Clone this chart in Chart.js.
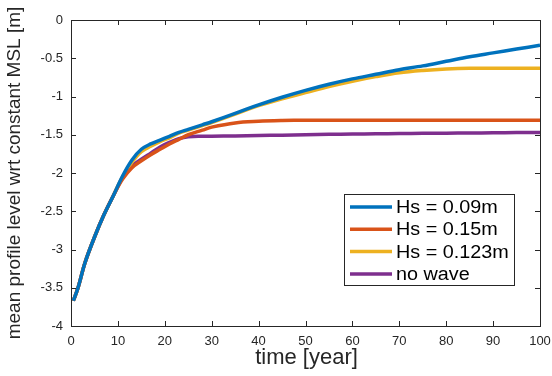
<!DOCTYPE html>
<html>
<head>
<meta charset="utf-8">
<script src="https://cdn.jsdelivr.net/npm/chart.js@4"></script>
<style>
  html, body { margin: 0; padding: 0; background: #fff; }
  #wrap { width: 552px; height: 376px; position: relative; }
</style>
</head>
<body>
<div id="wrap"><canvas id="msl"></canvas></div>
<script>
// time axis (years) shared by every series
const years = [0.5, 1.5, 3, 5, 7, 9, 11, 13, 15, 17, 19, 21, 23, 25, 28, 30,
  35, 40, 45, 50, 55, 60, 65, 70, 75, 80, 85, 90, 95, 100];

// all four runs start on top of each other
const early = [-3.67, -3.5, -3.17, -2.84, -2.55, -2.3];

const hs009 = early.concat([-2.04, -1.83, -1.69, -1.62, -1.57, -1.52, -1.47, -1.43, -1.37, -1.33,
  -1.22, -1.11, -1.01, -0.92, -0.84, -0.77, -0.71, -0.65, -0.6, -0.54, -0.48, -0.43, -0.38, -0.33]);
const hs015 = early.concat([-2.08, -1.93, -1.84, -1.76, -1.69, -1.62, -1.56, -1.5, -1.44, -1.4,
  -1.345, -1.325, -1.315, -1.31, -1.31, -1.31, -1.31, -1.31, -1.31, -1.31, -1.31, -1.31, -1.31, -1.31]);
const hs0123 = early.concat([-2.05, -1.86, -1.72, -1.65, -1.59, -1.54, -1.48, -1.44, -1.38, -1.34,
  -1.23, -1.12, -1.03, -0.95, -0.87, -0.8, -0.74, -0.69, -0.66, -0.64, -0.63, -0.63, -0.63, -0.63]);
const noWave = early.concat([-2.06, -1.91, -1.82, -1.74, -1.66, -1.6, -1.55, -1.525, -1.52, -1.52,
  -1.515, -1.51, -1.505, -1.5, -1.495, -1.49, -1.488, -1.485, -1.482, -1.48, -1.477, -1.475, -1.472, -1.47]);

const seriesNames = ["Hs = 0.09m", "Hs = 0.15m", "Hs = 0.123m", "no wave"];
const xTicks = [0, 10, 20, 30, 40, 50, 60, 70, 80, 90, 100];
const yTicks = [0, -0.5, -1, -1.5, -2, -2.5, -3, -3.5, -4];

const colors = ["#0072BD", "#D95319", "#EDB120", "#7E2F8E"];
const FONT = "'Liberation Sans', Arial, sans-serif";

function pts(vals) {
  return years.map((t, i) => ({ x: t, y: vals[i] }));
}

// MATLAB-style box with inward ticks, axis titles and an inset legend
const matlabFrame = {
  id: "matlabFrame",
  afterDraw(chart) {
    const { ctx, chartArea: a, scales } = chart;
    ctx.save();
    ctx.strokeStyle = "#262626";
    ctx.lineWidth = 1;
    ctx.strokeRect(a.left + 0.5, a.top + 0.5, a.right - a.left, a.bottom - a.top);
    ctx.beginPath();
    for (const v of xTicks) {
      const px = Math.round(scales.x.getPixelForValue(v)) + 0.5;
      ctx.moveTo(px, a.bottom); ctx.lineTo(px, a.bottom - 5);
      ctx.moveTo(px, a.top); ctx.lineTo(px, a.top + 5);
    }
    for (const v of yTicks) {
      const py = Math.round(scales.y.getPixelForValue(v)) + 0.5;
      ctx.moveTo(a.left, py); ctx.lineTo(a.left + 5, py);
      ctx.moveTo(a.right, py); ctx.lineTo(a.right - 5, py);
    }
    ctx.stroke();

    // axis titles
    ctx.fillStyle = "#262626";
    ctx.textAlign = "center";
    ctx.textBaseline = "middle";
    ctx.font = "22px " + FONT;
    ctx.fillText("time [year]", (a.left + a.right) / 2 + 1, 358);
    ctx.translate(15, 173);
    ctx.rotate(-Math.PI / 2);
    ctx.font = "19px " + FONT;
    ctx.fillText("mean profile level wrt constant MSL [m]", 0, 0);
    ctx.restore();

    // legend
    ctx.save();
    const lx = 344, ly = 194, lw = 170, lh = 91;
    ctx.fillStyle = "#fff";
    ctx.fillRect(lx, ly, lw, lh);
    ctx.strokeStyle = "#262626";
    ctx.lineWidth = 1;
    ctx.strokeRect(lx + 0.5, ly + 0.5, lw, lh);
    chart.data.datasets.forEach((ds, i) => {
      const y = ly + 13 + i * 22.3;
      ctx.strokeStyle = ds.borderColor;
      ctx.lineWidth = 3.5;
      ctx.beginPath();
      ctx.moveTo(lx + 6, y); ctx.lineTo(lx + 48, y);
      ctx.stroke();
      ctx.save();
      ctx.translate(lx + 52, y + 1);
      ctx.scale(1.1, 1);
      ctx.fillStyle = "#000";
      ctx.font = "18px " + FONT;
      ctx.textAlign = "left";
      ctx.textBaseline = "middle";
      ctx.fillText(ds.label, 0, 0);
      ctx.restore();
    });
    ctx.restore();
  }
};

new Chart(document.getElementById("msl"), {
  type: "line",
  data: {
    datasets: [hs009, hs015, hs0123, noWave].map((vals, i) => ({
      label: seriesNames[i],
      data: pts(vals),
      borderColor: colors[i],
      backgroundColor: colors[i],
      borderWidth: 3.5,
      pointRadius: 0,
      tension: 0.35,
      fill: false,
    })),
  },
  options: {
    responsive: true,
    maintainAspectRatio: false,
    animation: false,
    layout: { padding: { top: 20, right: 12, left: 0, bottom: 0 } },
    scales: {
      x: {
        type: "linear",
        min: 0,
        max: 100,
        afterBuildTicks: (s) => { s.ticks = xTicks.map((v) => ({ value: v })); },
        afterFit: (s) => { s.height = 50; s.paddingLeft = 0; s.paddingRight = 0; },
        grid: { display: false, drawTicks: false },
        border: { display: false },
        ticks: { color: "#262626", font: { family: FONT, size: 13 }, padding: 8, maxRotation: 0 },
      },
      y: {
        min: -4,
        max: 0,
        afterBuildTicks: (s) => { s.ticks = yTicks.map((v) => ({ value: v })); },
        afterFit: (s) => { s.width = 71; s.paddingTop = 0; s.paddingBottom = 0; },
        grid: { display: false, drawTicks: false },
        border: { display: false },
        ticks: {
          color: "#262626",
          font: { family: FONT, size: 13 },
          padding: 8,
          callback: (v) => String(v),
        },
      },
    },
    plugins: {
      legend: { display: false },
      tooltip: { enabled: false },
    },
  },
  plugins: [matlabFrame],
});
</script>
</body>
</html>
